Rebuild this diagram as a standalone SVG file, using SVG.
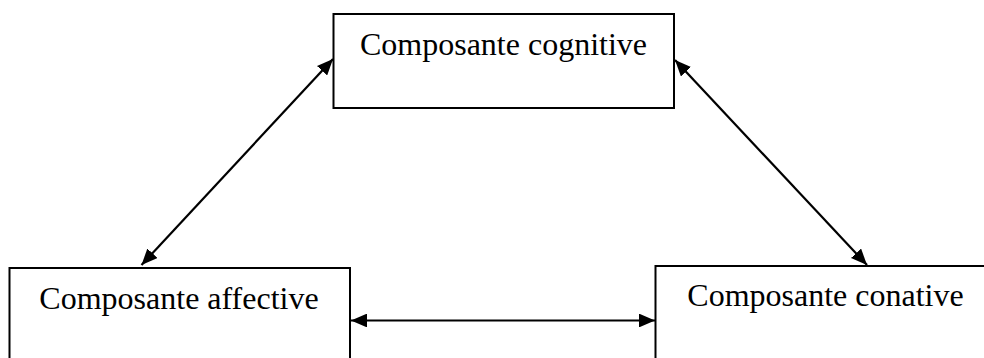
<svg xmlns="http://www.w3.org/2000/svg" width="984" height="358" viewBox="0 0 984 358">
<style>
.box{fill:#fff;stroke:#000;stroke-width:2}
.lbl{font-family:"Liberation Serif","Times New Roman",serif;font-size:32px;fill:#000}
.con{stroke:#000;stroke-width:2.2;fill:none;marker-start:url(#ah);marker-end:url(#ah)}
</style>
<defs>
<marker id="ah" viewBox="0 0 10 10" preserveAspectRatio="none" refX="10" refY="5" markerWidth="7.3" markerHeight="6.3" markerUnits="strokeWidth" orient="auto-start-reverse">
<path d="M0,0 L10,5 L0,10 z" fill="#000"/>
</marker>
</defs>
<rect width="984" height="358" fill="#fff"/>
<g id="cognitive">
<rect class="box" x="333.5" y="14" width="340.5" height="94"/>
<text class="lbl" x="503.5" y="55" text-anchor="middle">Composante cognitive</text>
</g>
<g id="affective">
<rect class="box" x="9.5" y="268" width="340.5" height="100"/>
<text class="lbl" x="179" y="309" text-anchor="middle">Composante affective</text>
</g>
<g id="conative">
<rect class="box" x="655.5" y="266" width="340" height="100"/>
<text class="lbl" x="825.5" y="306" text-anchor="middle">Composante conative</text>
</g>
<g id="connectors">
<line class="con" x1="141.5" y1="265" x2="333" y2="59"/>
<line class="con" x1="675" y1="60" x2="867" y2="265"/>
<line class="con" x1="351" y1="320.5" x2="655" y2="320.5"/>
</g>
</svg>
